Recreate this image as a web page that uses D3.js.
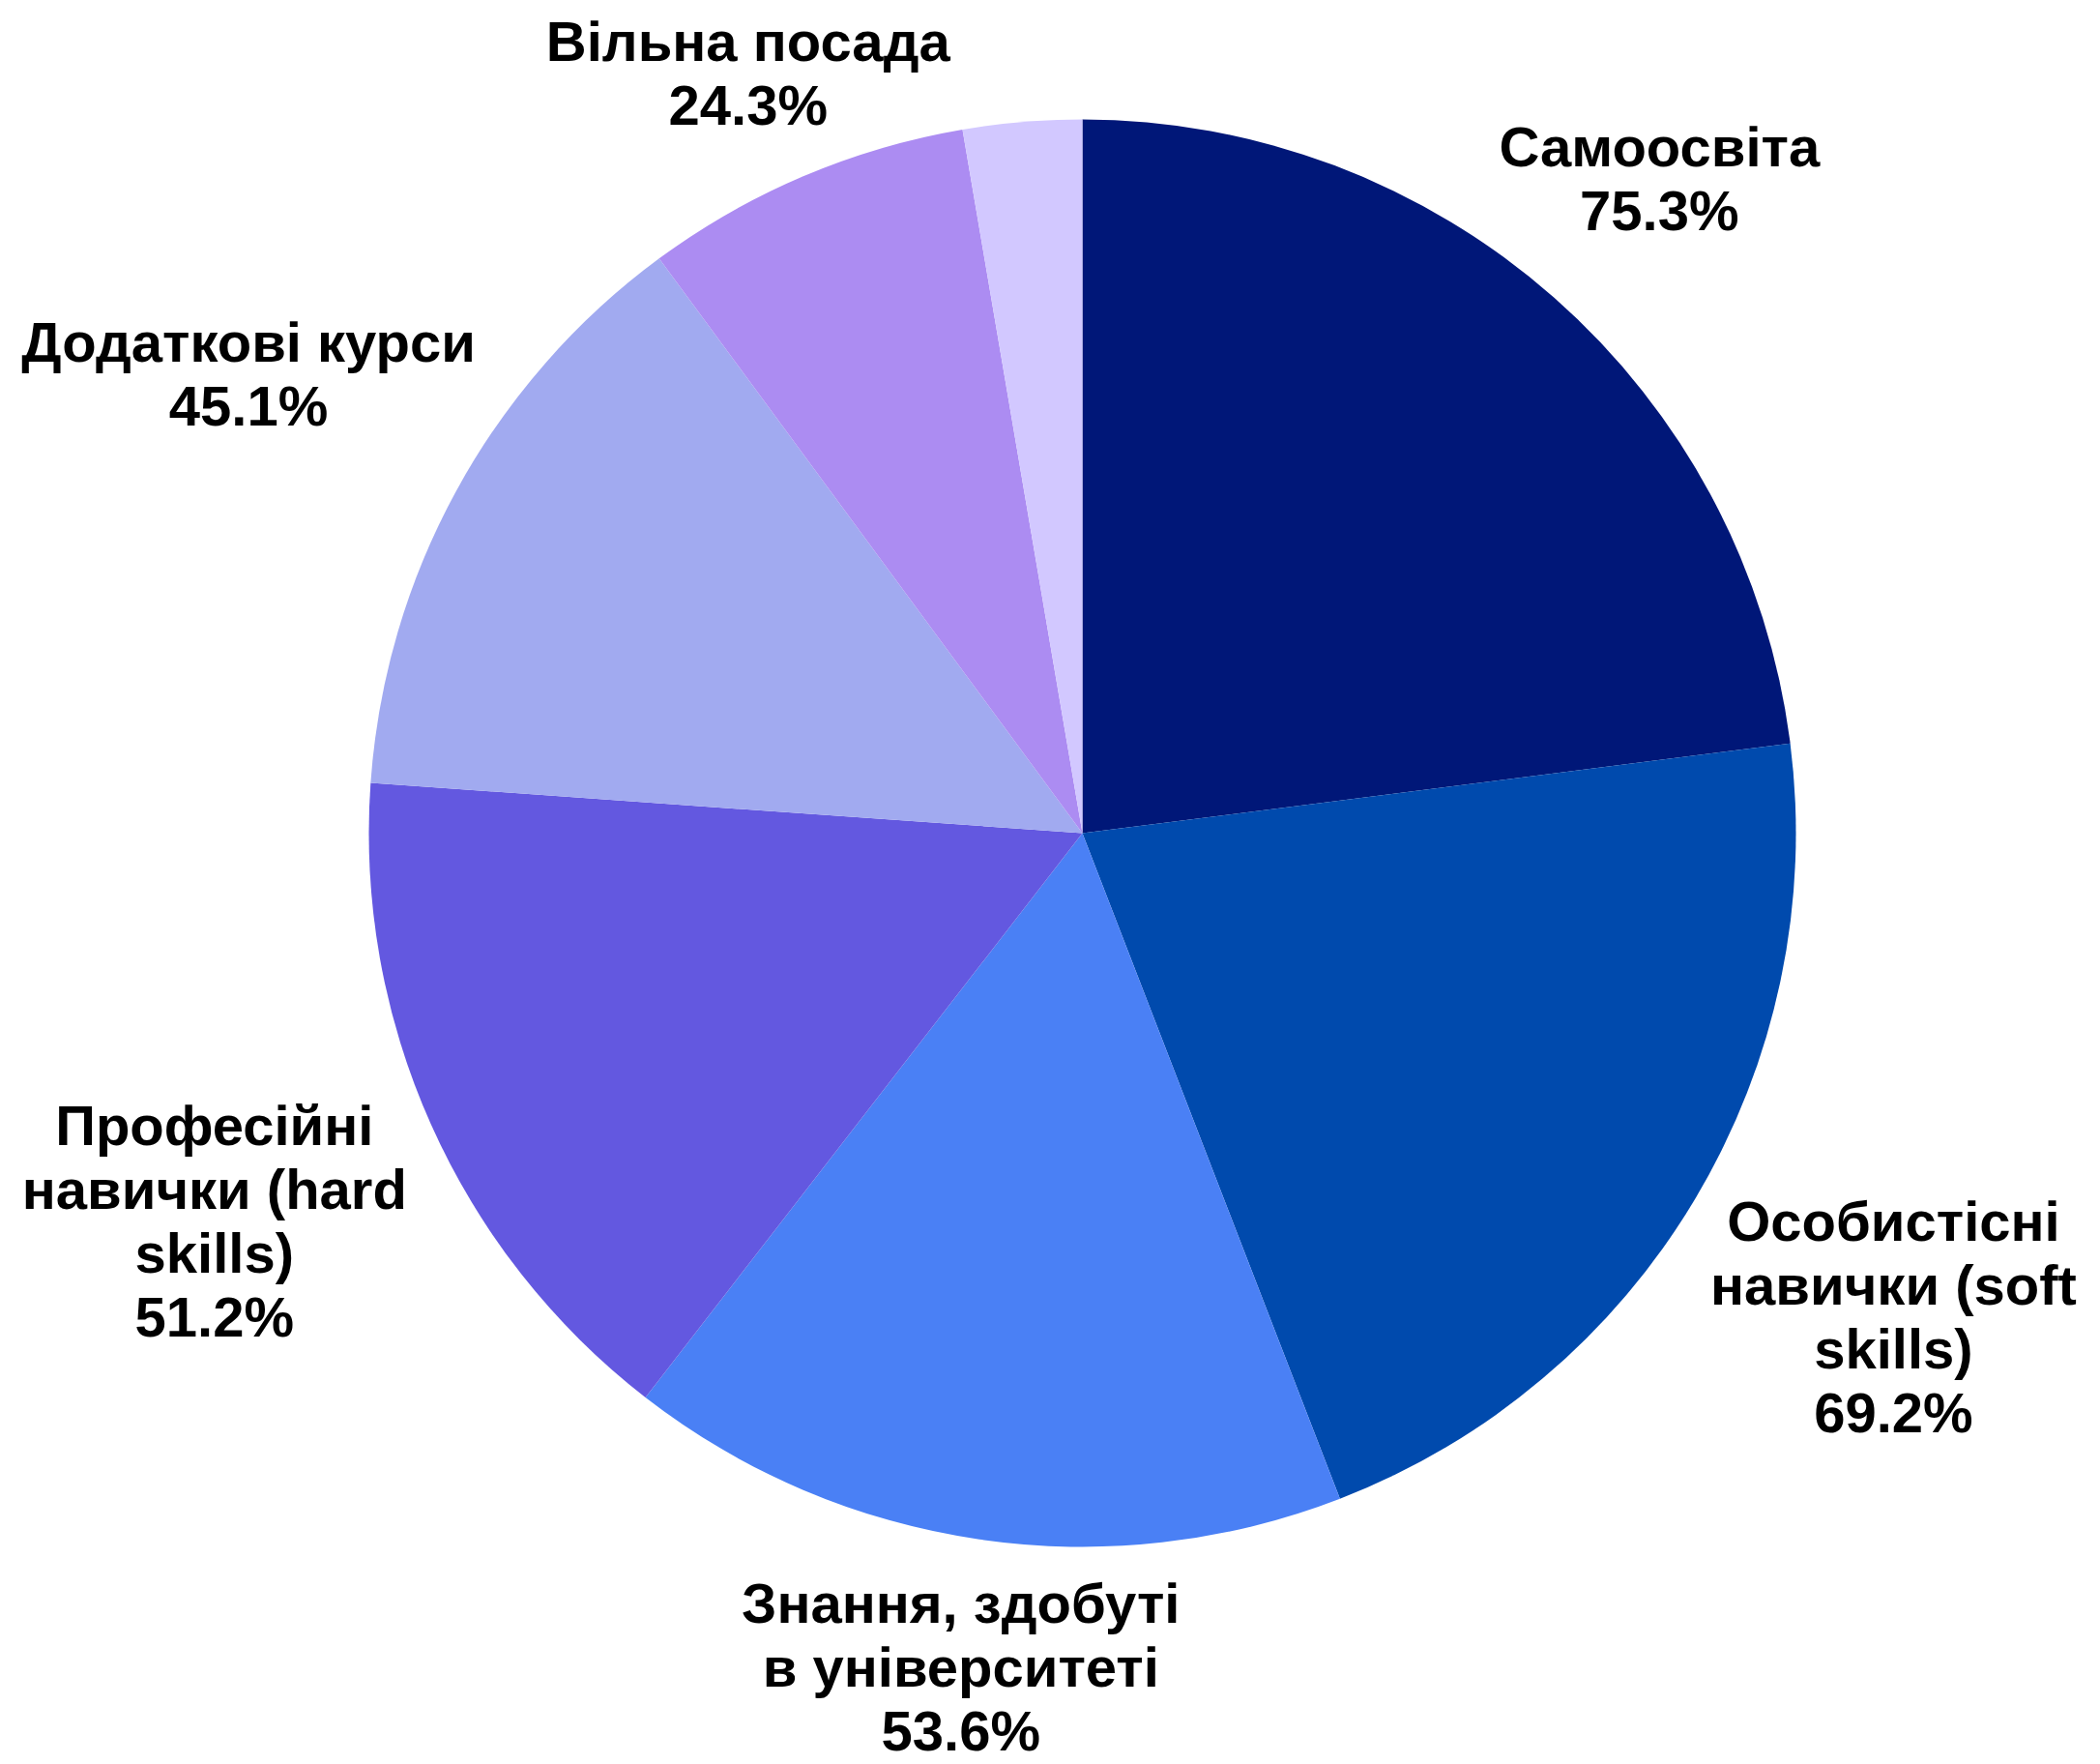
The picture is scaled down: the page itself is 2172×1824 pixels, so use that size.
<!DOCTYPE html>
<html><head><meta charset="utf-8">
<script src="https://cdn.jsdelivr.net/npm/d3@7"></script>
<style>html,body{margin:0;padding:0;background:#fff;}</style>
</head><body>
<svg id="chart" width="2172" height="1824"></svg>
<script>
const categories = [
  ["Самоосвіта"],
  ["Особистісні", "навички (soft", "skills)"],
  ["Знання, здобуті", "в університеті"],
  ["Професійні", "навички (hard", "skills)"],
  ["Додаткові курси"],
  ["Вільна посада"],
  ["Інше"]
];
const values = [75.3, 69.2, 53.6, 51.2, 45.1, 24.3, 8.8];
const showLabel = [true, true, true, true, true, true, false];
const colors = ["#001778", "#004aad", "#4a80f5", "#6358e0", "#a1aaf0", "#ac8cf2", "#d2c8ff"];

const W = 2172, H = 1824;
const cx = 1119.5, cy = 861.5, R = 738;
const fontSize = 58, lineH = 66, capH = fontSize * 0.7, gap = 15, margin = 22;

const svg = d3.select("#chart");
const g = svg.append("g").attr("transform", `translate(${cx},${cy})`);

const pie = d3.pie().sort(null).value(d => d.v);
const data = values.map((v, i) => ({v, i}));
const arcs = pie(data);
const arc = d3.arc().innerRadius(0).outerRadius(R);

g.selectAll("path.slice").data(arcs).enter().append("path")
  .attr("class", "slice")
  .attr("d", arc)
  .attr("fill", d => colors[d.data.i]);

const labels = g.selectAll("g.lbl").data(arcs.filter(d => showLabel[d.data.i])).enter()
  .append("g").attr("class", "lbl");

labels.each(function(d) {
  const lines = categories[d.data.i].concat([d3.format(".1f")(d.data.v) + "%"]);
  const t = d3.select(this).append("text")
    .attr("font-family", "'Liberation Sans', Arial, sans-serif")
    .attr("font-weight", "bold")
    .attr("font-size", fontSize)
    .attr("fill", "#000")
    .attr("text-anchor", "middle");
  let maxW = 0;
  lines.forEach((ln, k) => {
    const ts = t.append("tspan").attr("x", 0).attr("y", k * lineH).text(ln);
    maxW = Math.max(maxW, ts.node().getComputedTextLength());
  });
  const n = lines.length;
  const h = (n - 1) * lineH + capH;
  const mid = (d.startAngle + d.endAngle) / 2;
  const s = Math.sin(mid), c = -Math.cos(mid);
  const ext = (maxW / 2) * Math.abs(s) + (h / 2) * Math.abs(c);
  const dist = R + gap + ext;
  let bx = dist * s, by = dist * c;
  let yOff = by - h / 2 + capH;
  // keep the block inside the page
  const top = cy + yOff - capH;
  if (top < margin) yOff += margin - top;
  const left = cx + bx - maxW / 2;
  if (left < margin) bx += margin - left;
  const right = cx + bx + maxW / 2;
  if (right > W - margin) bx -= right - (W - margin);
  d3.select(this).attr("transform", `translate(${bx},${yOff})`);
});
</script>
</body></html>
